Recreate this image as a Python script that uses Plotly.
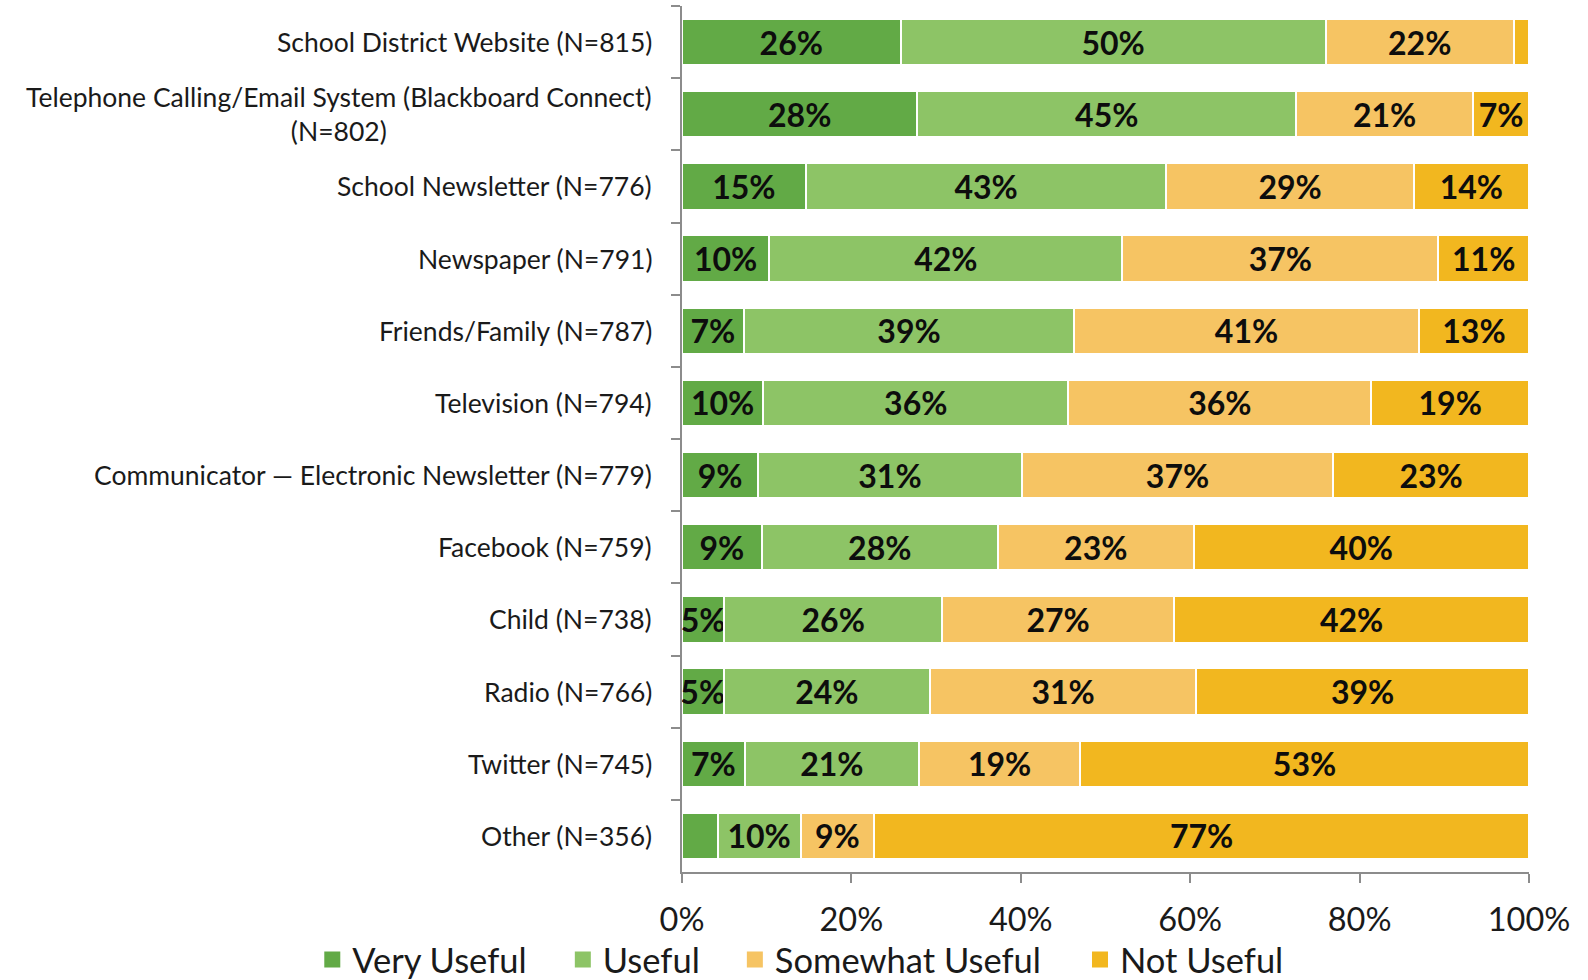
import plotly.graph_objects as go

categories = [
    "School District Website (N=815)",
    "Telephone Calling/Email System (Blackboard Connect)<br>(N=802)",
    "School Newsletter (N=776)",
    "Newspaper (N=791)",
    "Friends/Family (N=787)",
    "Television (N=794)",
    "Communicator \u2014 Electronic Newsletter (N=779)",
    "Facebook (N=759)",
    "Child (N=738)",
    "Radio (N=766)",
    "Twitter (N=745)",
    "Other (N=356)",
]
very_useful = [25.8, 27.8, 14.6, 10.3, 7.3, 9.6, 9.0, 9.4, 5.0, 4.9, 7.4, 4.2]
useful = [50.2, 44.7, 42.6, 41.7, 39.0, 36.0, 31.1, 27.9, 25.7, 24.4, 20.6, 9.8]
somewhat_useful = [22.2, 20.9, 29.2, 37.3, 40.7, 35.8, 36.8, 23.1, 27.4, 31.4, 19.0, 8.7]
not_useful = [1.8, 6.6, 13.6, 10.7, 13.0, 18.6, 23.1, 39.6, 41.9, 39.3, 53.0, 77.3]

series_names = ["Very Useful", "Useful", "Somewhat Useful", "Not Useful"]
series_values = [very_useful, useful, somewhat_useful, not_useful]
colors = ["#62AA46", "#8DC466", "#F6C463", "#F2B71F"]

FONT = "Lato"


def label(v):
    return f"{int(v + 0.5)}%" if v >= 4.5 else ""


fig = go.Figure()
for name, vals, col in zip(series_names, series_values, colors):
    fig.add_trace(go.Bar(
        y=categories, x=vals, name=name, orientation="h",
        marker=dict(color=col, line=dict(color="white", width=2)),
        text=[label(v) for v in vals],
        textposition="inside", insidetextanchor="middle",
        textangle=0, constraintext="none",
        textfont=dict(family=FONT, size=32, color="#0d0d0d", weight="bold"),
        hoverinfo="x+name", showlegend=False,
    ))

# one legend per entry so each swatch sits where the reference puts it
legend_ids = ["legend", "legend2", "legend3", "legend4"]
legend_x = [-0.4365, -0.1407, 0.0624, 0.4699]
for name, col, lid in zip(series_names, colors, legend_ids):
    fig.add_trace(go.Scatter(
        x=[None], y=[None], mode="markers", name=name,
        marker=dict(symbol="square", size=18, color=col),
        showlegend=True, hoverinfo="skip", legend=lid,
    ))

for cat in categories:
    fig.add_annotation(
        x=-0.033, xref="paper", y=cat, yref="y",
        text=cat, showarrow=False, xanchor="right", yanchor="middle",
        align="center", font=dict(family=FONT, size=26.5, color="#1a1a1a"),
    )

legend_common = dict(
    orientation="h", xref="paper", yref="paper",
    xanchor="left", y=-0.101, yanchor="middle",
    font=dict(family=FONT, size=34.5, color="#1a1a1a"),
    itemclick=False, bgcolor="rgba(0,0,0,0)",
)
legend_layout = {lid: dict(legend_common, x=lx) for lid, lx in zip(legend_ids, legend_x)}

fig.update_layout(
    barmode="stack",
    bargap=0.36,
    width=1588, height=980,
    margin=dict(l=682, r=59, t=6, b=108, autoexpand=False),
    paper_bgcolor="white", plot_bgcolor="white",
    font=dict(family=FONT, color="#1a1a1a"),
    showlegend=True,
    xaxis=dict(
        range=[0, 100], dtick=20, ticksuffix="%",
        showgrid=False, zeroline=False,
        showline=True, linecolor="#8c8c8c", linewidth=2,
        ticks="outside", ticklen=9, tickwidth=2, tickcolor="#8c8c8c",
        tickfont=dict(family=FONT, size=32.5, color="#1a1a1a"),
        ticklabelstandoff=9,
    ),
    yaxis=dict(
        autorange="reversed", showticklabels=False,
        showgrid=False, zeroline=False,
        showline=True, linecolor="#8c8c8c", linewidth=2,
        ticks="outside", ticklen=9, tickwidth=2, tickcolor="#8c8c8c",
        tickson="boundaries",
    ),
    **legend_layout,
)

fig.write_html(
    "out.html",
    config={"displayModeBar": False},
    post_script="document.body.style.margin='0';document.body.style.overflow='hidden';",
)
